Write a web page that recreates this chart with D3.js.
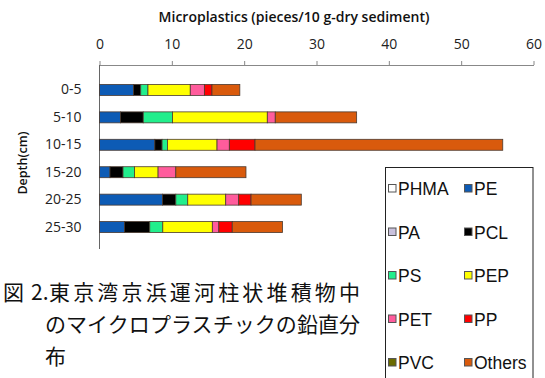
<!DOCTYPE html>
<html>
<head>
<meta charset="utf-8">
<script src="https://cdn.jsdelivr.net/npm/d3@7"></script>
<style>
  html, body { margin: 0; padding: 0; background: #fff; }
  svg { display: block; }
</style>
</head>
<body>
<div id="chart"></div>
<script>
// depth layers and polymer types
const depths = ["0-5", "5-10", "10-15", "15-20", "20-25", "25-30"];
const polymers = ["PHMA", "PE", "PA", "PCL", "PS", "PEP", "PET", "PP", "PVC", "Others"];
const colors = ["#ffffff", "#0d5bb5", "#c9c1dd", "#000000", "#22ee8c", "#ffff00", "#ff5c9c", "#ff0000", "#6b6b00", "#d95a0c"];

// pieces / 10 g-dry sediment (one array per polymer, by depth)
const PHMA   = [0, 0, 0, 0, 0, 0];
const PE     = [4.7, 2.9, 7.65, 1.45, 8.7, 3.45];
const PA     = [0, 0, 0, 0, 0, 0];
const PCL    = [1.0, 3.15, 1.0, 1.8, 1.85, 3.5];
const PS     = [1.0, 4.05, 0.75, 1.6, 1.65, 1.8];
const PEP    = [5.85, 13.1, 6.85, 3.25, 5.25, 6.85];
const PET    = [1.95, 1.1, 1.7, 2.45, 1.8, 0.9];
const PP     = [1.05, 0, 3.55, 0, 1.7, 1.85];
const PVC    = [0, 0, 0, 0, 0, 0];
const Others = [3.85, 11.25, 34.25, 9.7, 6.95, 6.95];

const xTicks = [0, 10, 20, 30, 40, 50, 60];
const xTitle = "Microplastics (pieces/10 g-dry sediment)";
const yTitle = "Depth(cm)";
const caption = ["東京湾京浜運河柱状堆積物中", "のマイクロプラスチックの鉛直分", "布"];

const series = { PHMA, PE, PA, PCL, PS, PEP, PET, PP, PVC, Others };
const rows = depths.map((d, i) => {
  const r = { depth: d };
  polymers.forEach(p => r[p] = series[p][i]);
  return r;
});

const W = 545, H = 378;
const svg = d3.select("#chart").append("svg")
  .attr("width", W).attr("height", H);

const x = d3.scaleLinear().domain([0, 60]).range([99.5, 533.5]);
const y = d3.scaleBand().domain(depths).range([68, 249]).padding(0.6);

const stack = d3.stack().keys(polymers)(rows);
const col = d3.scaleOrdinal().domain(polymers).range(colors);

const axisFont = "'Open Sans', sans-serif";

// top axis
const xa = svg.append("g")
  .attr("transform", `translate(0,65)`)
  .call(d3.axisTop(x).tickValues(xTicks).tickSize(4).tickSizeOuter(0).tickPadding(12));
xa.select(".domain").attr("stroke", "#888");
xa.selectAll(".tick line").attr("stroke", "#888");
xa.selectAll("text").attr("font-family", axisFont).attr("font-size", 14).attr("fill", "#222");

svg.append("text")
  .attr("x", 294).attr("y", 22)
  .attr("text-anchor", "middle")
  .attr("font-family", axisFont).attr("font-size", 14).attr("font-weight", 600)
  .attr("fill", "#111")
  .text(xTitle);

// left axis
const ya = svg.append("g")
  .attr("transform", `translate(${x(0)},0)`)
  .call(d3.axisLeft(y).tickSize(0).tickPadding(18));
ya.select(".domain").remove();
ya.selectAll("text").attr("font-family", axisFont).attr("font-size", 14).attr("fill", "#222");
svg.append("line")
  .attr("x1", x(0)).attr("x2", x(0)).attr("y1", 65).attr("y2", 249)
  .attr("stroke", "#666");

svg.append("text")
  .attr("transform", `translate(27,163) rotate(-90)`)
  .attr("text-anchor", "middle")
  .attr("font-family", axisFont).attr("font-size", 12.5).attr("font-weight", 600)
  .attr("fill", "#111")
  .text(yTitle);

// stacked bars
svg.append("g").selectAll("g")
  .data(stack).join("g")
  .attr("fill", d => col(d.key))
  .selectAll("rect")
  .data(d => d.filter(s => s[1] - s[0] > 0))
  .join("rect")
  .attr("x", d => x(d[0]))
  .attr("y", d => y(d.data.depth))
  .attr("width", d => x(d[1]) - x(d[0]))
  .attr("height", y.bandwidth())
  .attr("stroke", "#4a3a30")
  .attr("stroke-width", 0.8);

// legend
const lg = svg.append("g");
lg.append("rect")
  .attr("x", 385.5).attr("y", 167.5).attr("width", 147.5).attr("height", 230)
  .attr("fill", "#fff").attr("stroke", "#222").attr("stroke-width", 1);
polymers.forEach((p, i) => {
  const cx = i % 2 === 0 ? 388 : 464;
  const cy = 189 + Math.floor(i / 2) * 43.5;
  lg.append("rect")
    .attr("x", cx + 0.5).attr("y", cy - 4.5).attr("width", 7.5).attr("height", 7.5)
    .attr("fill", col(p)).attr("stroke", "#555").attr("stroke-width", 1);
  lg.append("text")
    .attr("x", cx + 10).attr("y", cy + 6)
    .attr("font-family", "'Liberation Sans', Arial, sans-serif").attr("font-size", 17.5)
    .attr("fill", "#111")
    .text(p);
});

// caption
const capFont = "'Noto Sans CJK JP', sans-serif";
const cap = svg.append("text")
  .attr("font-family", capFont).attr("font-size", 21)
  .attr("fill", "#111");
cap.append("tspan").attr("x", 3).attr("y", 300).text("図");
cap.append("tspan").attr("x", 31).attr("y", 300).text("2.");
cap.append("tspan").attr("x", 49).attr("y", 300)
  .attr("textLength", 311).attr("lengthAdjust", "spacing").text(caption[0]);
cap.append("tspan").attr("x", 45).attr("y", 332)
  .attr("textLength", 315).attr("lengthAdjust", "spacing").text(caption[1]);
cap.append("tspan").attr("x", 45).attr("y", 364).text(caption[2]);
</script>
</body>
</html>
